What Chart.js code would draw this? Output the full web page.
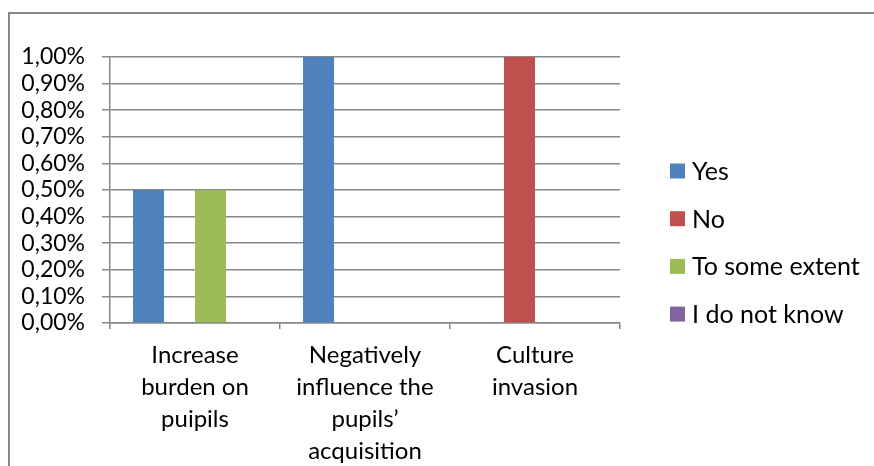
<!DOCTYPE html>
<html>
<head>
<meta charset="utf-8">
<script src="https://cdn.jsdelivr.net/npm/chart.js@4/dist/chart.umd.min.js"></script>
<style>
  html, body { margin: 0; padding: 0; background: #ffffff; }
  #wrap { width: 874px; height: 466px; position: relative; }
</style>
</head>
<body>
<div id="wrap"><canvas id="c" width="874" height="466"></canvas></div>
<script>
// Categories (multi-line labels) and series values
const categories = [
  ["Increase", "burden on", "puipils"],
  ["Negatively", "influence the", "pupils\u2019", "acquisition"],
  ["Culture", "invasion"]
];
const seriesNames = ["Yes", "No", "To some extent", "I do not know"];
const seriesColors = ["#4F81BD", "#C0504D", "#9BBB59", "#8064A2"];
const yesValues = [0.5, 1.0, 0];
const noValues = [0, 0, 1.0];
const someExtentValues = [0.5, 0, 0];
const dontKnowValues = [0, 0, 0];
const yTickLabels = ["0,00%", "0,10%", "0,20%", "0,30%", "0,40%", "0,50%",
                     "0,60%", "0,70%", "0,80%", "0,90%", "1,00%"];

const FONT = "Lato, 'Open Sans', sans-serif";
const GRID = "#878787";

// Outer frame of the chart object
const framePlugin = {
  id: "frame",
  beforeDraw(chart) {
    const ctx = chart.ctx;
    ctx.save();
    ctx.strokeStyle = GRID;
    ctx.lineWidth = 2;
    ctx.strokeRect(9, 13, 1200, 1200);
    ctx.restore();
  }
};

// Legend drawn at the right of the plot
const sideLegend = {
  id: "sideLegend",
  afterDraw(chart) {
    const ctx = chart.ctx;
    const x0 = 670, y0 = 171, step = 47.7, box = 15;
    ctx.save();
    ctx.font = "25px " + FONT;
    ctx.textBaseline = "middle";
    ctx.textAlign = "left";
    chart.data.datasets.forEach((ds, i) => {
      const cy = y0 + i * step;
      ctx.fillStyle = ds.backgroundColor;
      ctx.fillRect(x0, cy - box / 2, box, box);
      ctx.fillStyle = "#000000";
      ctx.fillText(ds.label, x0 + box + 7, cy + 1);
    });
    ctx.restore();
  }
};

const valueSets = [yesValues, noValues, someExtentValues, dontKnowValues];

new Chart(document.getElementById("c"), {
  type: "bar",
  data: {
    labels: categories,
    datasets: seriesNames.map((name, i) => ({
      label: name,
      data: valueSets[i],
      backgroundColor: seriesColors[i],
      borderWidth: 0,
      categoryPercentage: 0.729,
      barPercentage: 1.0
    }))
  },
  options: {
    responsive: false,
    animation: false,
    devicePixelRatio: 1,
    layout: { padding: { left: 10, top: 57, right: 254, bottom: 0 } },
    plugins: {
      legend: { display: false },
      tooltip: { enabled: false }
    },
    scales: {
      x: {
        afterFit(scale) { scale.height = 143; },
        grid: {
          offset: true,
          drawOnChartArea: false,
          drawTicks: true,
          tickLength: 6,
          color: GRID,
          lineWidth: 1.5
        },
        border: { display: true, color: GRID, width: 1.5 },
        ticks: {
          color: "#000000",
          padding: 10,
          maxRotation: 0,
          autoSkip: false,
          font: { family: FONT, size: 24, lineHeight: "32px" }
        }
      },
      y: {
        min: 0,
        max: 1,
        afterFit(scale) { scale.width = 100; },
        grid: {
          color: GRID,
          lineWidth: 1.5,
          tickLength: 8,
          drawTicks: true
        },
        border: { display: true, color: GRID, width: 1.5 },
        ticks: {
          stepSize: 0.1,
          autoSkip: false,
          padding: 17,
          color: "#000000",
          font: { family: FONT, size: 23 },
          callback: (v, idx) => yTickLabels[idx]
        }
      }
    }
  },
  plugins: [framePlugin, sideLegend]
});
</script>
</body>
</html>
